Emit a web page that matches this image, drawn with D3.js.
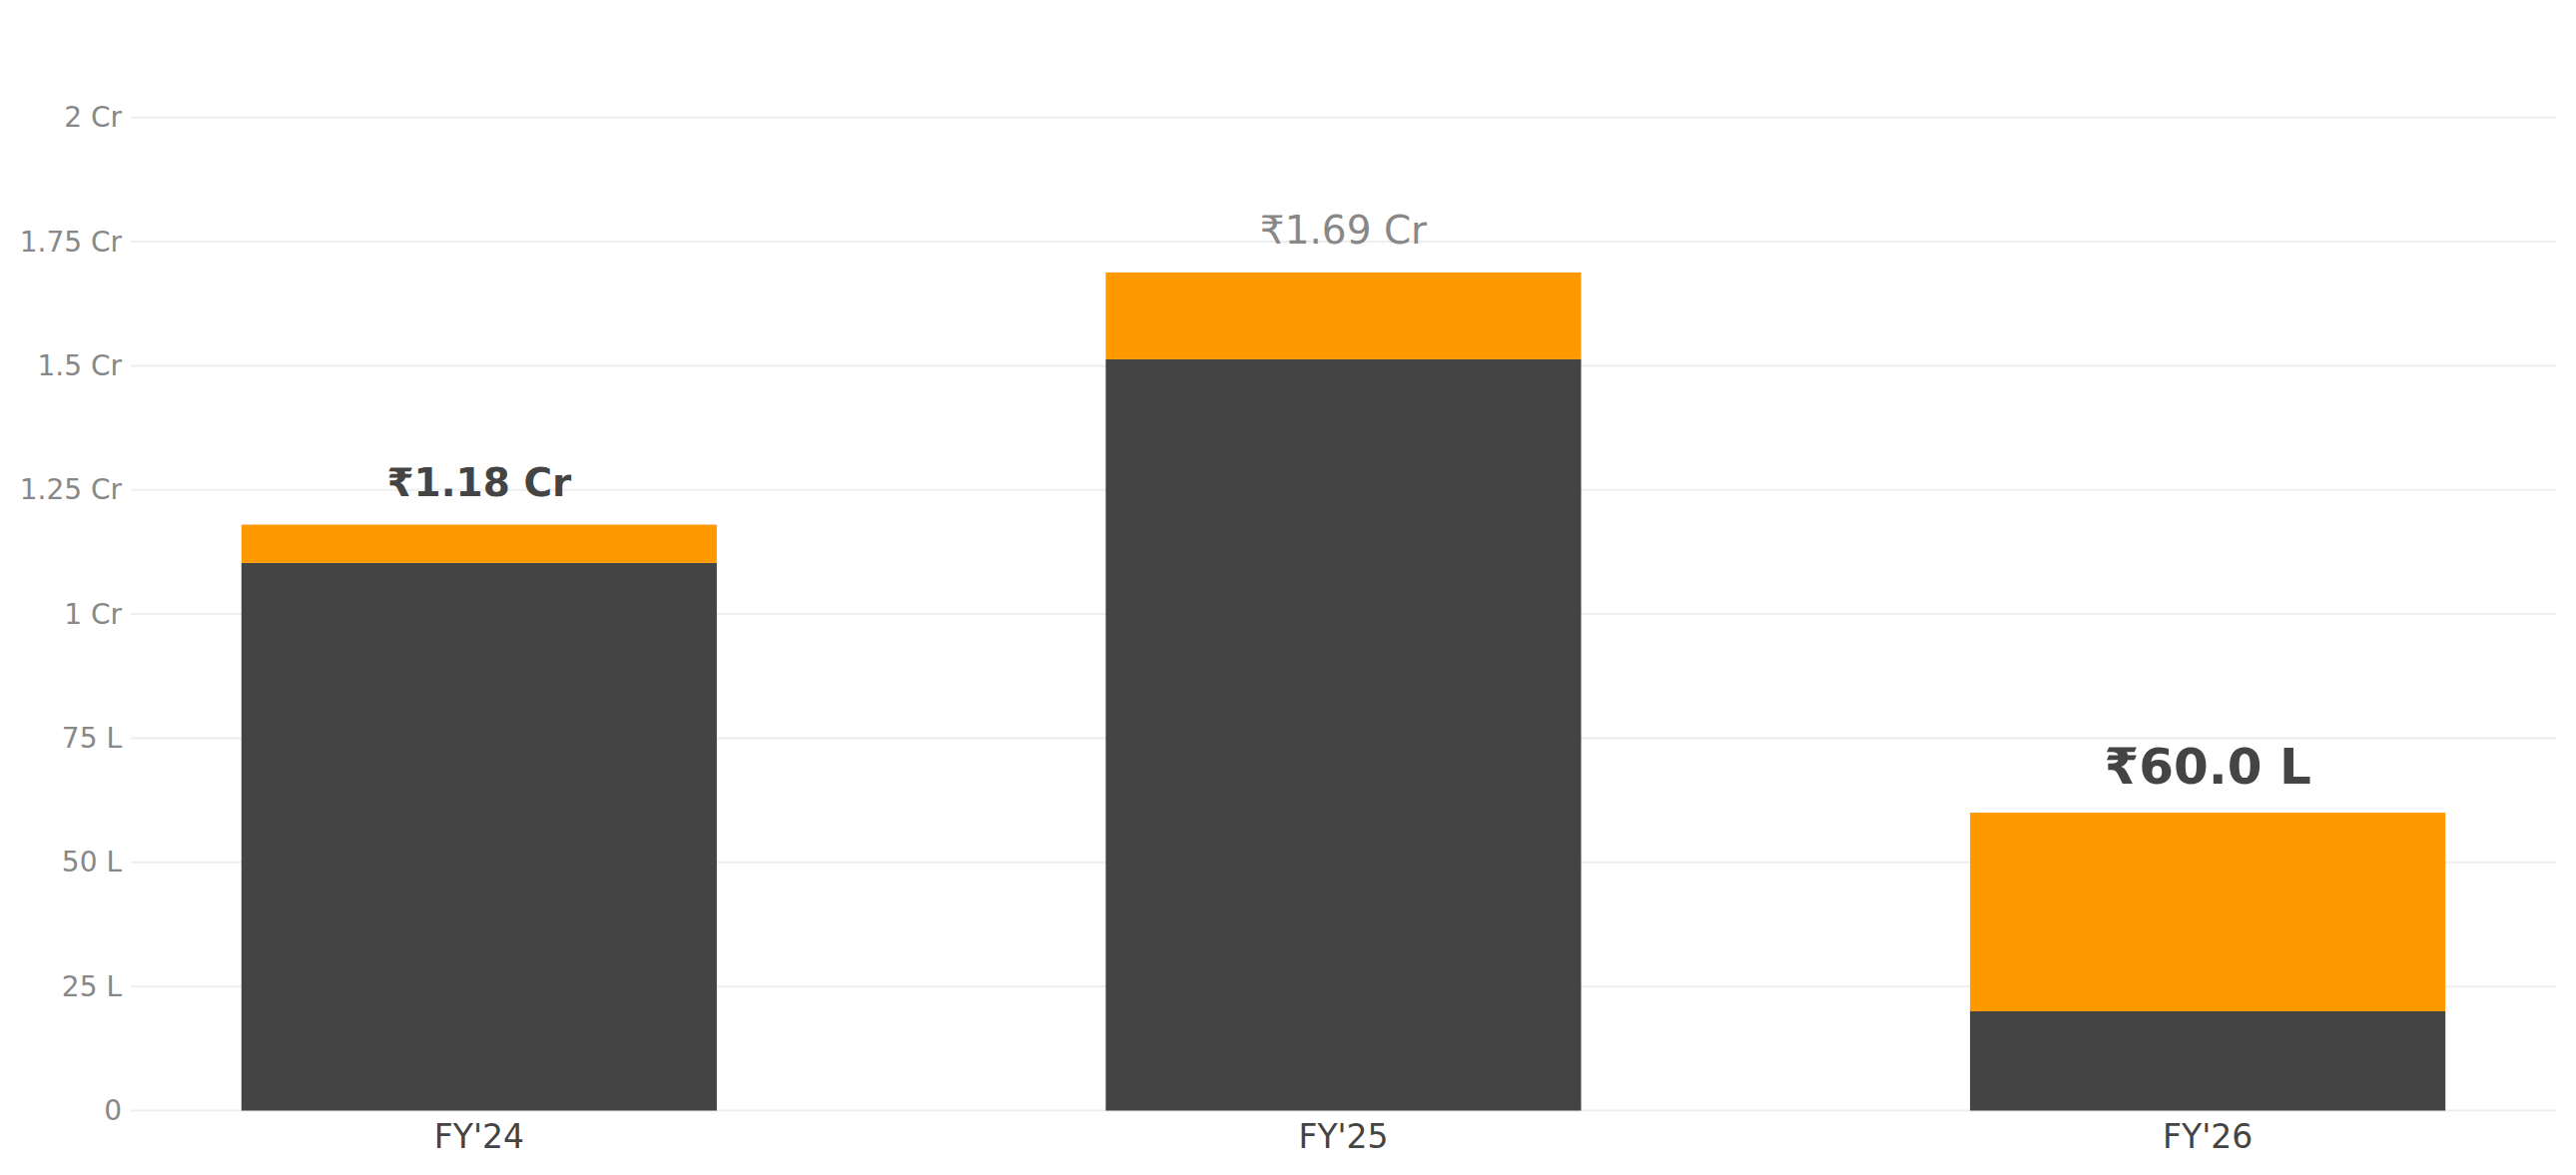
<!DOCTYPE html>
<html>
<head>
<meta charset="utf-8">
<script src="https://cdn.jsdelivr.net/npm/d3@7/dist/d3.min.js"></script>
<style>
  html, body { margin: 0; padding: 0; background: #fff; }
  svg { display: block; font-family: "DejaVu Sans", sans-serif; }
</style>
</head>
<body>
<svg id="chart" width="2580" height="1177"></svg>
<script>
// ---- data ----
const categories = ["FY'24", "FY'25", "FY'26"];
const baseValues = [11030000, 15130000, 2000000];   // dark segment (₹)
const topValues  = [770000, 1750000, 4000000];      // orange segment (₹)
const totalLabels = ["₹1.18 Cr", "₹1.69 Cr", "₹60.0 L"];
const yTickValues = [0, 2500000, 5000000, 7500000, 10000000, 12500000, 15000000, 17500000, 20000000];
const yTickLabels = ["0", "25 L", "50 L", "75 L", "1 Cr", "1.25 Cr", "1.5 Cr", "1.75 Cr", "2 Cr"];

// ---- styling (kept separate from data) ----
const labelStyles = [
  { size: 39, weight: "bold", fill: "#444444" },
  { size: 39, weight: "normal", fill: "#888888" },
  { size: 50, weight: "bold", fill: "#444444" }
];
const colors = { base: "#444444", top: "#ff9900" };

const svg = d3.select("#chart");
const plot = { left: 131, right: 2560, top: 117.7, bottom: 1112.5 };

const x = d3.scaleBand()
  .domain(categories)
  .range([plot.left, plot.right])
  .paddingInner(0.45)
  .paddingOuter(0.128);

const y = d3.scaleLinear()
  .domain([0, 20000000])
  .range([plot.bottom, plot.top]);

// gridlines
svg.append("g")
  .selectAll("line")
  .data(yTickValues)
  .join("line")
  .attr("x1", plot.left)
  .attr("x2", plot.right)
  .attr("y1", d => y(d))
  .attr("y2", d => y(d))
  .attr("stroke", "#eeeeee")
  .attr("stroke-width", 2);

// y axis labels
const yAxis = d3.axisLeft(y)
  .tickValues(yTickValues)
  .tickFormat((d, i) => yTickLabels[i])
  .tickSize(0)
  .tickPadding(9);
const gy = svg.append("g")
  .attr("transform", `translate(${plot.left},0)`)
  .call(yAxis);
gy.select(".domain").remove();
gy.selectAll("text")
  .attr("font-family", "DejaVu Sans")
  .attr("font-size", 28)
  .attr("fill", "#888888");

// stacked data
const rows = categories.map((c, i) => ({ cat: c, base: baseValues[i], top: topValues[i] }));
const stack = d3.stack().keys(["base", "top"])(rows);

svg.append("g")
  .selectAll("g")
  .data(stack)
  .join("g")
  .attr("fill", d => colors[d.key])
  .selectAll("rect")
  .data(d => d)
  .join("rect")
  .attr("x", d => x(d.data.cat))
  .attr("width", x.bandwidth())
  .attr("y", d => y(d[1]))
  .attr("height", d => y(d[0]) - y(d[1]));

// total labels
svg.append("g")
  .selectAll("text")
  .data(rows)
  .join("text")
  .attr("x", d => x(d.cat) + x.bandwidth() / 2)
  .attr("y", d => y(d.base + d.top) - 29)
  .attr("text-anchor", "middle")
  .attr("font-size", (d, i) => labelStyles[i].size)
  .attr("font-weight", (d, i) => labelStyles[i].weight)
  .attr("fill", (d, i) => labelStyles[i].fill)
  .text((d, i) => totalLabels[i]);

// x axis labels
const xAxis = d3.axisBottom(x).tickSize(0).tickPadding(14);
const gx = svg.append("g")
  .attr("transform", `translate(0,${plot.bottom})`)
  .call(xAxis);
gx.select(".domain").remove();
gx.selectAll("text")
  .attr("font-family", "DejaVu Sans")
  .attr("font-size", 33)
  .attr("fill", "#444444");
</script>
</body>
</html>
